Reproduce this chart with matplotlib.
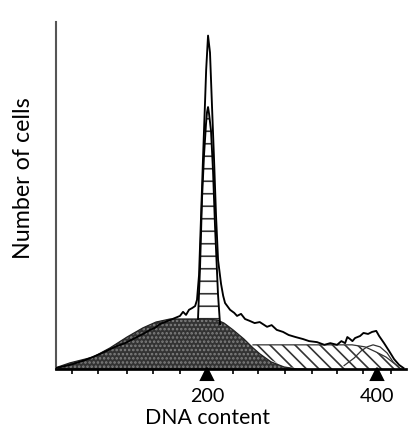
import numpy as np
import matplotlib.pyplot as plt
import matplotlib.transforms as mtransforms

plt.rcParams['font.family'] = ['Lato', 'DejaVu Sans']
plt.rcParams['hatch.linewidth'] = 0.8

# outer histogram envelope (DNA content, number of cells)
env_x = [22.4, 38.8, 56.5, 74.1, 91.8, 103.5, 115.3, 127.0, 132.9, 138.8, 144.7, 150.6,
         156.5, 162.4, 168.2, 171.8, 175.3, 178.8, 182.4, 186.0, 188.2, 190.6, 193.0,
         195.3, 197.6, 199.0, 201.2, 203.5, 205.9, 208.2, 210.6, 213.0, 216.5, 219.0,
         221.2, 227.1, 232.0, 235.3, 240.0, 244.7, 250.6, 256.0, 262.0, 270.6, 276.0,
         282.0, 289.4, 296.0, 304.0, 312.9, 320.0, 329.4, 338.0, 345.0, 352.9, 358.0,
         362.4, 365.0, 368.2, 371.0, 374.1, 380.0, 384.0, 389.4, 394.1, 399.0, 402.4,
         408.2, 414.1, 420.0, 425.9, 431.0]
env_y = [0.3, 1.2, 2.6, 4.4, 6.5, 7.6, 9.1, 10.6, 11.5, 12.1, 13.2, 13.8,
         14.4, 15.0, 15.6, 16.8, 15.9, 17.4, 17.9, 18.5, 20.3, 27.6, 45.0,
         62.0, 78.0, 88.0, 98.0, 93.0, 77.0, 62.0, 45.0, 32.0, 25.0, 21.5,
         19.4, 17.4, 16.5, 15.6, 16.2, 14.7, 14.1, 13.5, 13.8, 12.4, 12.9,
         11.5, 10.9, 10.0, 9.4, 8.8, 8.2, 7.9, 7.1, 7.6, 7.1, 8.2,
         7.6, 9.4, 8.8, 8.2, 9.1, 9.7, 10.6, 10.3, 10.9, 11.2, 9.7,
         7.6, 5.3, 2.9, 1.2, 0.3]

# inner G1 peak (horizontal hatch)
g1_x = [189.4, 191.8, 194.1, 196.5, 198.8, 200.0, 201.2, 202.4, 204.7, 207.1, 209.4, 212.9, 215.3]
g1_y = [14.7, 30.0, 50.0, 63.0, 72.0, 75.5, 77.0, 75.0, 70.0, 58.0, 42.0, 22.0, 13.2]

# S-phase hump (dark stipple)
s_x = [24.7, 38.8, 65.9, 85.9, 105.9, 124.7, 140.0, 156.5, 170.6, 188.2, 200.0, 211.8,
       220.0, 230.6, 243.5, 254.1, 262.4, 275.3, 290.6, 305.9, 315.3]
s_y = [0.6, 1.8, 3.5, 6.2, 9.4, 12.1, 13.8, 14.7, 14.7, 14.7, 14.7, 14.4,
       13.5, 11.5, 8.8, 6.2, 4.4, 2.1, 0.6, 0.0, 0.0]

# G2 region (diagonal hatch top edge)
g2_x = [254.1, 262.4, 290.0, 320.0, 350.0, 370.6, 385.9, 398.8, 410.6, 422.4, 428.0]
g2_y = [7.1, 7.1, 7.1, 7.1, 7.1, 7.1, 6.5, 5.0, 3.5, 1.2, 0.0]

# small G2 peak outline
g2p_x = [361.2, 372.9, 381.2, 388.2, 395.3, 403.5, 411.8, 418.8, 425.9]
g2p_y = [1.0, 3.2, 5.3, 6.5, 7.1, 6.5, 4.7, 2.1, 0.3]

minor_ticks = [41, 72, 106, 136, 231, 260, 292, 353, 384, 416]
long_ticks = [168, 324]
marks = [200, 400]

fig = plt.figure(figsize=(409 / 150, 430 / 150), dpi=150)
ax = fig.add_axes([56 / 409, 1 - 369 / 430, 350 / 409, 347 / 430])

# S-phase
ax.fill_between(s_x, s_y, 0, facecolor='#333333', edgecolor='#808080',
                hatch='......', linewidth=0, zorder=2)
ax.plot(s_x, s_y, color='#222222', lw=0.6, zorder=3)

# G2 hatched area above S slope
gx = np.array(g2_x)
s_under = np.interp(gx, s_x, s_y)
ax.fill_between(gx, g2_y, s_under, where=np.array(g2_y) >= s_under,
                facecolor='white', edgecolor='#333333', hatch='\\\\\\\\',
                linewidth=0, zorder=1)
ax.plot(g2_x, g2_y, color='#333333', lw=0.6, zorder=3)

# G1 peak hatched
g1x = np.array(g1_x)
ax.fill_between(g1x, g1_y, np.interp(g1x, s_x, s_y), facecolor='white',
                edgecolor='#333333', hatch='--', linewidth=0, zorder=2)
ax.plot(g1_x, g1_y, color='black', lw=0.9, zorder=4)

ax.plot(g2p_x, g2p_y, color='#333333', lw=0.6, zorder=4)

# outer envelope
ax.plot(env_x, env_y, color='black', lw=0.9, zorder=5)

ax.set_xlim(22.4, 434)
ax.set_ylim(0, 102)

for s in ['top', 'right']:
    ax.spines[s].set_visible(False)
ax.spines['left'].set_color('#555555')
ax.spines['left'].set_linewidth(1.0)
ax.spines['bottom'].set_color('black')
ax.spines['bottom'].set_linewidth(1.3)
ax.spines['bottom'].set_zorder(6)

ax.set_yticks([])
ax.set_xticks(marks)
ax.set_xticklabels([str(m) for m in marks], fontsize=9.5)
ax.tick_params(axis='x', which='major', length=0, pad=9)
ax.set_xticks(minor_ticks + long_ticks, minor=True)
ax.tick_params(axis='x', which='minor', length=2.5, width=0.8, direction='out')

trans = mtransforms.blended_transform_factory(ax.transData, ax.transAxes)
ax.plot(marks, [-0.013, -0.013], linestyle='none', marker='^', markersize=5.5,
        color='black', transform=trans, clip_on=False, zorder=7)

ax.set_xlabel('DNA content', fontsize=10.2)
ax.xaxis.set_label_coords(0.434, -0.112)
ax.set_ylabel('Number of cells', fontsize=11.2)
ax.yaxis.set_label_coords(-0.062, 0.55)

fig.savefig('out.png', dpi=150)
